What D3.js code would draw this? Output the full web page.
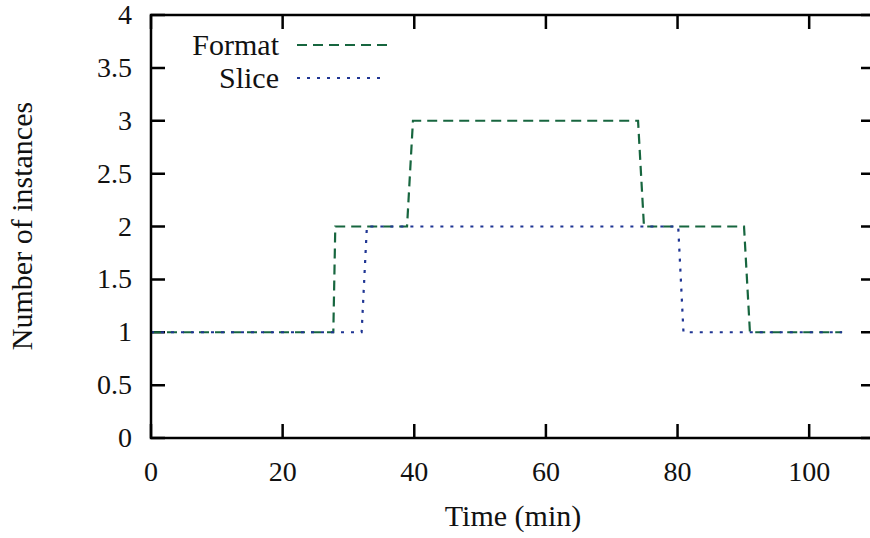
<!DOCTYPE html>
<html>
<head>
<meta charset="utf-8">
<script src="https://cdn.jsdelivr.net/npm/d3@7"></script>
<style>
  body { margin: 0; background: #fff; }
  svg { display: block; }
  text { font-family: "Liberation Serif", "Times New Roman", Times, serif; fill: #111; }
</style>
</head>
<body>
<svg width="870" height="538"></svg>
<script>
// series (time in minutes, number of instances)
var formatTime = [0, 27.7, 28, 38.9, 39.8, 74, 74.9, 90.1, 91, 105];
var formatCount = [1, 1, 2, 2, 3, 3, 2, 2, 1, 1];
var sliceTime = [0, 32, 32.8, 80.1, 80.9, 105];
var sliceCount = [1, 1, 2, 2, 1, 1];
var xTicks = [0, 20, 40, 60, 80, 100];
var yTicks = [0, 0.5, 1, 1.5, 2, 2.5, 3, 3.5, 4];

var svg = d3.select("svg");
var plotL = 151, plotR = 875, plotT = 15, plotB = 438;

var x = d3.scaleLinear().domain([0, 110]).range([plotL, plotR]);
var y = d3.scaleLinear().domain([0, 4]).range([plotB, plotT]);

// tick marks (inward, mirrored)
var tickLen = 14;
var g = svg.append("g");
g.selectAll(".xt").data(xTicks).enter().append("path")
    .attr("d", function (d) { return "M" + x(d) + "," + plotB + "V" + (plotB - tickLen) + "M" + x(d) + "," + plotT + "V" + (plotT + tickLen); })
    .attr("stroke", "#000").attr("stroke-width", 2.5);
g.selectAll(".yt").data(yTicks).enter().append("path")
    .attr("d", function (d) { return "M" + plotL + "," + y(d) + "H" + (plotL + tickLen) + "M" + plotR + "," + y(d) + "H" + (plotR - tickLen); })
    .attr("stroke", "#000").attr("stroke-width", 2.5);

// tick labels
g.selectAll(".xl").data(xTicks).enter().append("text")
    .attr("x", function (d) { return x(d); })
    .attr("y", 481)
    .attr("text-anchor", "middle")
    .attr("font-size", 28)
    .text(function (d) { return d; });
g.selectAll(".yl").data(yTicks).enter().append("text")
    .attr("x", 132)
    .attr("y", function (d) { return y(d) + 9; })
    .attr("text-anchor", "end")
    .attr("font-size", 28)
    .text(function (d) { return d; });

// axis titles
svg.append("text").attr("x", 513).attr("y", 526).attr("text-anchor", "middle")
    .attr("font-size", 30).text("Time (min)");
svg.append("text").attr("transform", "translate(32,226) rotate(-90)").attr("text-anchor", "middle")
    .attr("font-size", 30).text("Number of instances");

// lines
var line = d3.line().x(function (d) { return x(d[0]); }).y(function (d) { return y(d[1]); });
var formatData = d3.zip(formatTime, formatCount);
var sliceData = d3.zip(sliceTime, sliceCount);

svg.append("path").datum(formatData).attr("d", line)
    .attr("fill", "none").attr("stroke", "#17663f").attr("stroke-width", 2.2)
    .attr("stroke-dasharray", "10,6");
svg.append("path").datum(sliceData).attr("d", line)
    .attr("fill", "none").attr("stroke", "#1f3593").attr("stroke-width", 2.2)
    .attr("stroke-dasharray", "3,7");

// legend
var legend = [["Format", "#17663f", "10,6", 45], ["Slice", "#1f3593", "3,7", 78]];
legend.forEach(function (l) {
    svg.append("text").attr("x", 279).attr("y", l[3] + 10).attr("text-anchor", "end")
        .attr("font-size", 30).text(l[0]);
    svg.append("line").attr("x1", 297).attr("x2", 387).attr("y1", l[3]).attr("y2", l[3])
        .attr("stroke", l[1]).attr("stroke-width", 2.2).attr("stroke-dasharray", l[2]);
});

// border
svg.append("rect").attr("x", plotL).attr("y", plotT).attr("width", plotR - plotL).attr("height", plotB - plotT)
    .attr("fill", "none").attr("stroke", "#000").attr("stroke-width", 2.5);
</script>
</body>
</html>
